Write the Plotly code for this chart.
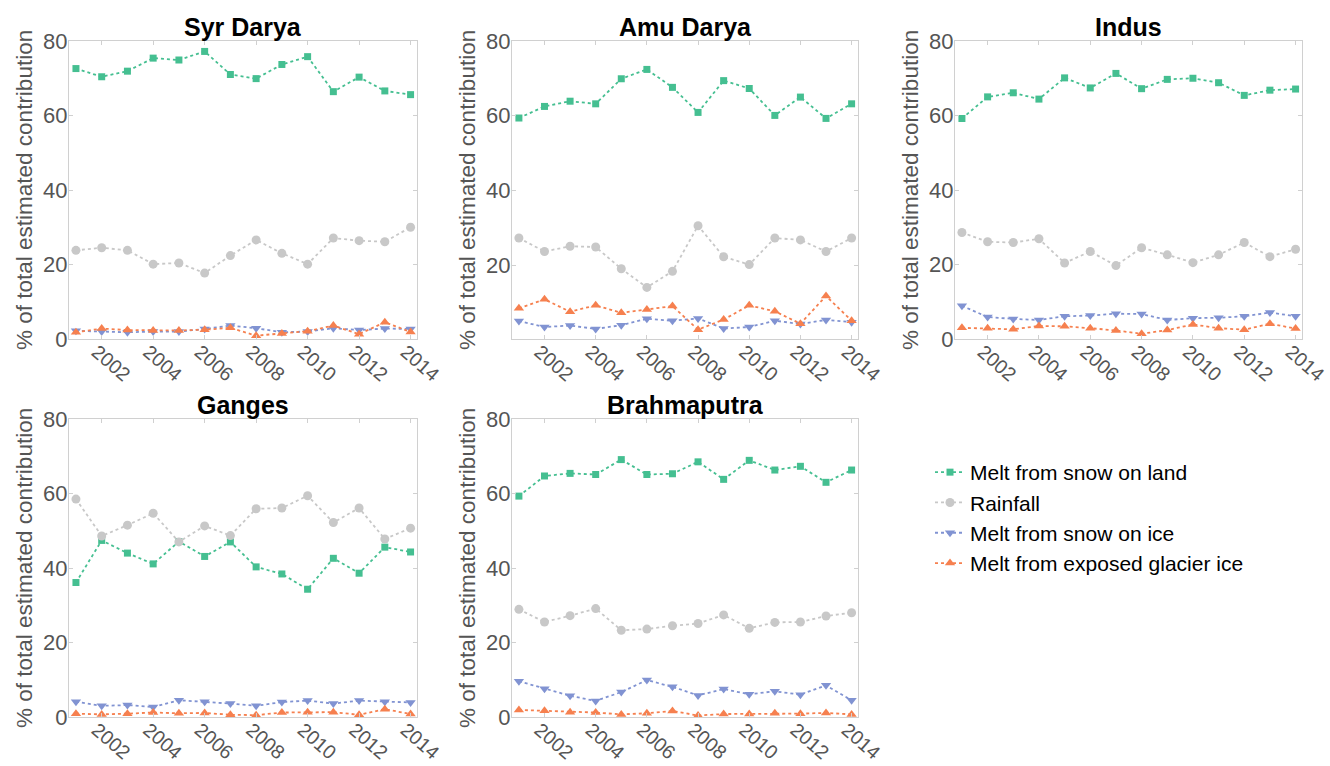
import plotly.graph_objects as go

years = list(range(2001, 2015))
basins = ["Syr Darya", "Amu Darya", "Indus", "Ganges", "Brahmaputra"]
series_names = ["Melt from snow on land", "Rainfall", "Melt from snow on ice", "Melt from exposed glacier ice"]

syr_snow_land = [72.6, 70.4, 71.9, 75.4, 74.9, 77.2, 71.0, 69.9, 73.7, 75.8, 66.4, 70.3, 66.6, 65.6]
syr_rain = [23.8, 24.5, 23.8, 20.1, 20.4, 17.7, 22.4, 26.6, 23.0, 20.1, 27.1, 26.4, 26.1, 30.0]
syr_snow_ice = [2.2, 2.0, 1.8, 2.0, 2.0, 2.7, 3.6, 2.9, 1.8, 2.0, 2.9, 2.4, 2.8, 2.7]
syr_glacier = [1.8, 2.8, 2.4, 2.3, 2.3, 2.5, 3.0, 0.9, 1.5, 2.1, 3.6, 1.3, 4.5, 1.9]

amu_snow_land = [59.4, 62.5, 63.9, 63.2, 69.9, 72.4, 67.6, 60.9, 69.4, 67.3, 60.1, 65.0, 59.3, 63.2]
amu_rain = [27.3, 23.7, 25.1, 24.9, 19.1, 14.1, 18.4, 30.6, 22.3, 20.2, 27.3, 26.8, 23.7, 27.3]
amu_snow_ice = [5.1, 3.5, 3.9, 3.0, 4.0, 5.7, 5.2, 5.8, 3.1, 3.5, 5.2, 4.3, 5.4, 4.8]
amu_glacier = [8.5, 10.9, 7.6, 9.3, 7.3, 8.2, 9.1, 2.8, 5.5, 9.3, 7.7, 4.4, 11.8, 5.2]

indus_snow_land = [59.2, 65.0, 66.1, 64.4, 70.1, 67.4, 71.3, 67.2, 69.7, 70.0, 68.8, 65.4, 66.8, 67.1]
indus_rain = [28.6, 26.1, 25.9, 26.9, 20.4, 23.5, 19.7, 24.5, 22.6, 20.5, 22.6, 25.9, 22.1, 24.1]
indus_snow_ice = [8.9, 5.9, 5.4, 5.1, 6.1, 6.3, 6.8, 6.7, 5.1, 5.6, 5.7, 6.1, 7.1, 6.1]
indus_glacier = [3.0, 2.9, 2.6, 3.5, 3.4, 2.9, 2.3, 1.4, 2.4, 3.9, 2.9, 2.5, 4.1, 2.8]

ganges_snow_land = [36.1, 47.4, 44.0, 41.1, 47.1, 43.1, 47.0, 40.3, 38.4, 34.3, 42.6, 38.6, 45.6, 44.3]
ganges_rain = [58.5, 48.6, 51.5, 54.7, 47.0, 51.3, 48.7, 55.9, 56.1, 59.4, 52.2, 56.1, 47.8, 50.7]
ganges_snow_ice = [4.1, 3.0, 3.2, 2.7, 4.5, 4.1, 3.6, 3.0, 4.0, 4.4, 3.6, 4.4, 4.1, 3.9]
ganges_glacier = [0.9, 0.7, 0.9, 1.2, 1.0, 1.1, 0.6, 0.5, 1.2, 1.3, 1.3, 0.6, 2.1, 0.8]

brahma_snow_land = [59.3, 64.7, 65.4, 65.1, 69.1, 65.1, 65.3, 68.5, 63.8, 68.9, 66.3, 67.3, 63.0, 66.3]
brahma_rain = [28.9, 25.5, 27.2, 29.1, 23.3, 23.6, 24.5, 25.1, 27.4, 23.8, 25.4, 25.5, 27.1, 28.0]
brahma_snow_ice = [9.6, 7.6, 5.7, 4.3, 6.7, 9.9, 8.1, 5.8, 7.5, 6.1, 6.9, 6.0, 8.5, 4.5]
brahma_glacier = [1.9, 1.7, 1.3, 1.2, 0.7, 1.0, 1.6, 0.4, 0.8, 0.8, 1.0, 0.9, 1.1, 0.7]

data = {
    "Syr Darya": [syr_snow_land, syr_rain, syr_snow_ice, syr_glacier],
    "Amu Darya": [amu_snow_land, amu_rain, amu_snow_ice, amu_glacier],
    "Indus": [indus_snow_land, indus_rain, indus_snow_ice, indus_glacier],
    "Ganges": [ganges_snow_land, ganges_rain, ganges_snow_ice, ganges_glacier],
    "Brahmaputra": [brahma_snow_land, brahma_rain, brahma_snow_ice, brahma_glacier],
}

colors = ["#45bf91", "#c8c8c8", "#8193d2", "#f6804f"]
symbols = ["square", "circle", "triangle-down", "triangle-up"]
msizes = [7, 9, 9, 9]

W, H = 1330, 766
# pixel boxes (left, right, top, bottom)
boxes = {
    "Syr Darya": (69, 417, 41, 339),
    "Amu Darya": (512, 858, 41, 339),
    "Indus": (955, 1302, 41, 339),
    "Ganges": (69, 417, 419, 717),
    "Brahmaputra": (512, 858, 419, 717),
}
ymins = {"Syr Darya": 0, "Amu Darya": 0.3, "Indus": 0, "Ganges": 0, "Brahmaputra": 0}

fig = go.Figure()
FONT = "Liberation Sans, Arial, sans-serif"
annotations = []
layout = {}
for i, b in enumerate(basins):
    n = "" if i == 0 else str(i + 1)
    l, r, t, bt = boxes[b]
    xd = [l / W, r / W]
    yd = [1 - bt / H, 1 - t / H]
    for k in range(4):
        fig.add_trace(go.Scatter(
            x=years, y=data[b][k], name=series_names[k],
            mode="lines+markers",
            line=dict(color=colors[k], width=1.8, dash="dot"),
            marker=dict(color=colors[k], symbol=symbols[k], size=msizes[k]),
            xaxis="x" + n, yaxis="y" + n, showlegend=(i == 0),
        ))
    axcommon = dict(showgrid=False, zeroline=False, showline=True, linecolor="#d0d0d0",
                    linewidth=1, mirror="ticks", ticks="inside", ticklen=4, tickcolor="#d0d0d0",
                    automargin=False, ticklabeloverflow="allow")
    layout["xaxis" + n] = dict(axcommon, domain=xd, anchor="y" + n, range=[2000.73, 2014.25],
                               tickvals=list(range(2002, 2015, 2)), tickangle=41,
                               ticklabelstandoff=-7, ticklabelshift=-5,
                               tickfont=dict(size=19.5, color="#555555", family=FONT))
    layout["yaxis" + n] = dict(axcommon, domain=yd, anchor="x" + n, range=[ymins[b], 80],
                               tickvals=[0, 20, 40, 60, 80], ticklabelstandoff=-4,
                               tickfont=dict(size=22, color="#555555", family=FONT))
    annotations.append(dict(text="<b>" + b + "</b>", x=(l + r) / 2 / W, y=1 - (t - 14) / H,
                            xref="paper", yref="paper", showarrow=False, xanchor="center",
                            yanchor="middle", font=dict(size=25, color="black", family=FONT)))
    annotations.append(dict(text="% of total estimated contribution", x=(l - 45) / W,
                            y=(yd[0] + yd[1]) / 2, xref="paper", yref="paper", showarrow=False,
                            textangle=-90, xanchor="center", yanchor="middle",
                            font=dict(size=22.5, color="#555555", family=FONT)))

fig.update_layout(**layout)
fig.update_layout(
    width=W, height=H, margin=dict(l=0, r=0, t=0, b=0),
    plot_bgcolor="white", paper_bgcolor="white",
    annotations=annotations,
    legend=dict(x=930 / W, y=1 - 452 / H, xanchor="left", yanchor="top",
                font=dict(size=21, color="black", family=FONT), tracegroupgap=0,
                itemwidth=30),
)
fig.write_html("out.html", config={"displayModeBar": False},
               post_script="document.body.style.margin='0';document.body.style.overflow='hidden';")
